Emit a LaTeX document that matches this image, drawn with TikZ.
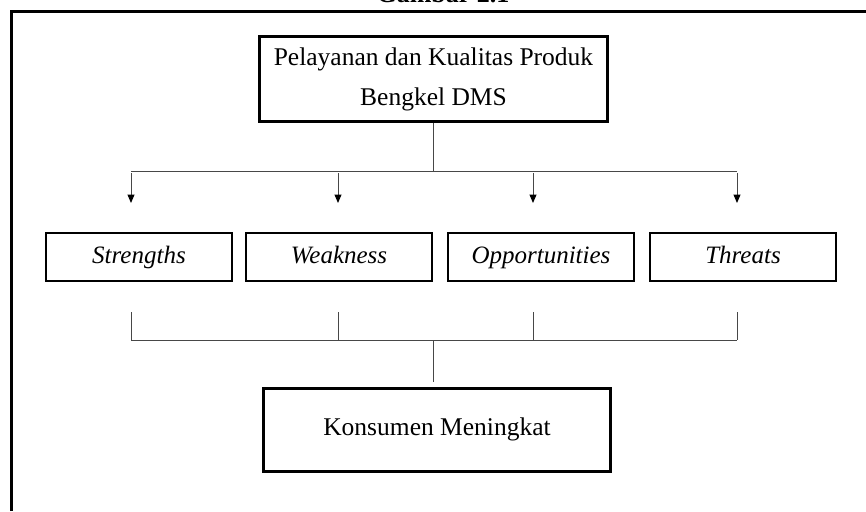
\documentclass[tikz,border=0pt]{standalone}
\usepackage{fontspec}
\setmainfont{Liberation Serif}
\usetikzlibrary{arrows.meta}
\begin{document}
\begin{tikzpicture}[x=1pt,y=-1pt,
  box/.style={draw=black, line width=2.6pt, inner sep=0pt},
  rowbox/.style={box, minimum width=186pt, minimum height=48pt,
    font=\fontsize{25}{30}\selectfont\itshape, text height=17pt, text depth=5pt},
  conn/.style={line width=1pt, draw=black!72},
  arr/.style={conn, -{Triangle[width=7pt,length=8.5pt,color=black]}}]
\useasboundingbox (0,0) rectangle (866,511);
% title (cut by the page edge)
\node[anchor=base, inner sep=0pt, font=\bfseries\fontsize{26}{30}\selectfont] (title) at (443,3) {Gambar 2.1};
% outer frame
\draw[line width=3pt] (11.5,511) -- (11.5,11.5) -- (866,11.5);
% boxes
\node[box, minimum width=348pt, minimum height=85pt, align=center,
  font=\fontsize{25.5}{40}\selectfont] (top) at (433.5,79) {Pelayanan dan Kualitas Produk\\Bengkel DMS};
\node[rowbox] (s) at (139,257) {Strengths};
\node[rowbox] (w) at (339,257) {Weakness};
\node[rowbox] (o) at (541,257) {Opportunities};
\node[rowbox] (t) at (743,257) {Threats};
\node[box, minimum width=347pt, minimum height=83pt, font=\fontsize{25.5}{30}\selectfont,
  text height=16pt, text depth=5pt] (k) at (437,430) {Konsumen Meningkat};
% upper branching
\coordinate (hub1) at (433.5,171);
\coordinate (b1) at (131,171);
\coordinate (b4) at (737,171);
\coordinate (s1) at (131,173);
\coordinate (s2) at (338,173);
\coordinate (s3) at (533,173);
\coordinate (s4) at (737,173);
\coordinate (a1) at (131,203);
\coordinate (a2) at (338,203);
\coordinate (a3) at (533,203);
\coordinate (a4) at (737,203);
\draw[conn] (top.south) -- (hub1);
\draw[conn] (b1) -- (b4);
\draw[arr] (s1) -- (a1);
\draw[arr] (s2) -- (a2);
\draw[arr] (s3) -- (a3);
\draw[arr] (s4) -- (a4);
% lower joining
\coordinate (c1) at (131,312);
\coordinate (c2) at (338,312);
\coordinate (c3) at (533,312);
\coordinate (c4) at (737,312);
\coordinate (d1) at (131,340);
\coordinate (d2) at (338,340);
\coordinate (d3) at (533,340);
\coordinate (d4) at (737,340);
\coordinate (hub2) at (433.5,340);
\coordinate (kin) at (433.5,382);
\draw[conn] (c1) -- (d1);
\draw[conn] (c2) -- (d2);
\draw[conn] (c3) -- (d3);
\draw[conn] (c4) -- (d4);
\draw[conn] (d1) -- (d4);
\draw[conn] (hub2) -- (kin);
\end{tikzpicture}
\end{document}
